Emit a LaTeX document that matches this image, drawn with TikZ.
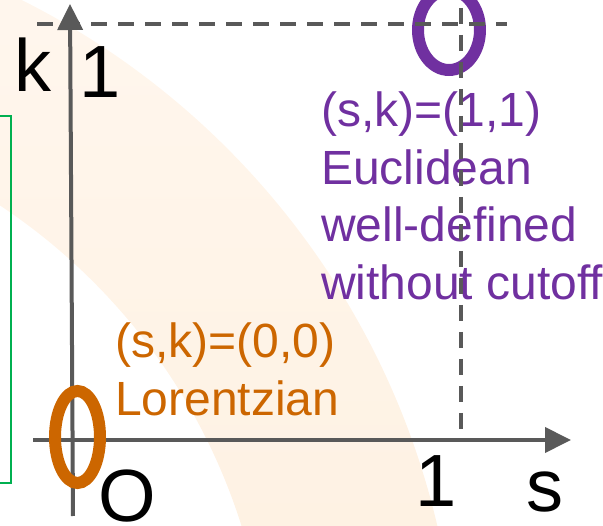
\documentclass[tikz,border=0pt]{standalone}
\usepackage{fontspec}
\setmainfont{Liberation Sans}
\usetikzlibrary{arrows.meta,shapes.geometric}
\definecolor{axgray}{HTML}{595959}
\definecolor{lpurple}{HTML}{7030A0}
\definecolor{lorange}{HTML}{CC6600}
\definecolor{lgreen}{HTML}{00B050}
\definecolor{peachtop}{HTML}{FFF7EF}
\definecolor{peachbot}{HTML}{FDE9D0}
\tikzset{
  axis/.style={draw=axgray, line width=4pt, -{Triangle[length=26pt,width=25pt]}},
  guide/.style={draw=axgray, line width=4pt, dash pattern=on 16pt off 11pt},
  ring/.style={ellipse, draw, line width=12pt, inner sep=0pt},
  biglabel/.style={font=\fontsize{74}{80}\selectfont, inner sep=0pt, anchor=base},
  note/.style={font=\fontsize{48}{57.5}\selectfont, inner sep=0pt, align=left, anchor=north west}
}
\begin{document}
\begin{tikzpicture}[x=1pt,y=-1pt]
\clip (0,0) rectangle (603,526);
% background band
\shade[top color=peachtop, bottom color=peachbot, even odd rule]
  (-331,706) circle (789) (-331,706) circle (600);
% green box edge
\draw[lgreen, line width=1.5pt] (-20,116) rectangle (11,483);
% axes
\coordinate (ybot) at (73,516);
\coordinate (ytop) at (70,4);
\coordinate (xl) at (33,440);
\coordinate (xr) at (571,440);
\draw[axis] (ybot) -- (ytop);
\draw[axis] (xl) -- (xr);
% rings
\node[ring, draw=lorange, minimum width=45pt, minimum height=92pt] (lor) at (77.5,437) {};
\node[ring, draw=lpurple, minimum width=62pt, minimum height=80pt] (euc) at (449,30) {};
% labels
\node[biglabel] (klab) at (33.5,92) {k};
\node[biglabel] (k1) at (100,98) {1};
\node[biglabel] (olab) at (127,522) {O};
\node[biglabel] (s1) at (436,507) {1};
\node[biglabel] (slab) at (545,512) {s};
\node[note, text=lpurple] (eucl) at (321,92) {(s,k)=(1,1)\\Euclidean\\well-defined\\without cutoff};
\node[note, text=lorange] (lorl) at (115,323) {(s,k)=(0,0)\\Lorentzian};
% dashed guides
\coordinate (hl) at (37,24);
\coordinate (hr) at (507,24);
\coordinate (vt) at (461,8);
\coordinate (vb) at (461,433);
\draw[guide] (hl) -- (hr);
\draw[guide] (vt) -- (vb);
\end{tikzpicture}
\end{document}
